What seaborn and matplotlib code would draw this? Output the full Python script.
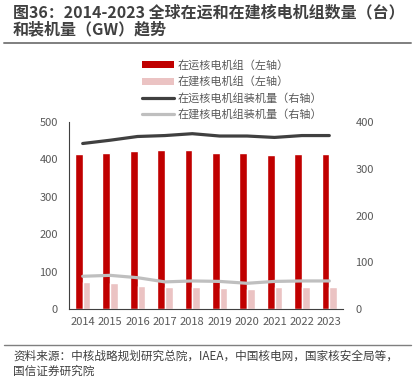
import numpy as np
import pandas as pd
import matplotlib
matplotlib.use("Agg")
import matplotlib.pyplot as plt
import seaborn as sns
from matplotlib.patches import Patch
from matplotlib.lines import Line2D

years = ["2014", "2015", "2016", "2017", "2018", "2019", "2020", "2021", "2022", "2023"]
operating_units = [415, 418, 423, 424, 426, 418, 416, 412, 414, 415]
construction_units = [73, 69, 62, 60, 59, 57, 54, 59, 60, 60]
operating_gw = [354, 361, 369, 371, 375, 370, 370, 367, 371, 371]
construction_gw = [70, 72, 67, 58, 60, 59, 55, 59, 60, 60]

lbl_op = "在运核电机组（左轴）"
lbl_con = "在建核电机组（左轴）"
lbl_opgw = "在运核电机组装机量（右轴）"
lbl_congw = "在建核电机组装机量（右轴）"

sns.set_theme(style="white")
plt.rcParams['font.family'] = ['Noto Sans CJK SC', 'DejaVu Sans']

red = "#C00000"
pink = "#EBC3C3"
dark = "#404040"
light = "#BFBFBF"
txt = "#595959"

W, H = 413, 378
fig = plt.figure(figsize=(W/100, H/100), dpi=100)
ax = fig.add_axes([69/W, 1-309/H, (343-69)/W, (309-122)/H])

bars = pd.DataFrame({
    "year": years * 2,
    "value": operating_units + construction_units,
    "series": [lbl_op]*len(years) + [lbl_con]*len(years),
})
sns.barplot(data=bars, x="year", y="value", hue="series", order=years,
            hue_order=[lbl_op, lbl_con], palette=[red, pink], width=0.56,
            gap=0, saturation=1, ax=ax, legend=False)
ax.set_xlim(-0.5, 9.5)
ax.set_ylim(0, 500)
ax.set_yticks([0, 100, 200, 300, 400, 500])
ax.set_xlabel("")
ax.set_ylabel("")
for s in ["top", "right"]:
    ax.spines[s].set_visible(False)
ax.spines["left"].set_color("#404040")
ax.spines["bottom"].set_color("#404040")
ax.spines["left"].set_linewidth(0.8)
ax.spines["bottom"].set_linewidth(0.8)
ax.tick_params(axis="y", length=0, labelsize=8, colors=txt, pad=8)
ax.tick_params(axis="x", length=0, labelsize=8, colors=txt, pad=6)

ax2 = ax.twinx()
lines = pd.DataFrame({
    "pos": list(range(len(years))) * 2,
    "value": operating_gw + construction_gw,
    "series": [lbl_opgw]*len(years) + [lbl_congw]*len(years),
})
sns.lineplot(data=lines, x="pos", y="value", hue="series",
             hue_order=[lbl_opgw, lbl_congw], palette=[dark, light],
             linewidth=2.3, ax=ax2, legend=False)
ax2.set_xlim(-0.5, 9.5)
ax2.set_ylim(0, 400)
ax2.set_yticks([0, 100, 200, 300, 400])
ax2.set_xlabel("")
ax2.set_ylabel("")
for s in ["top", "right", "left", "bottom"]:
    ax2.spines[s].set_visible(False)
ax2.tick_params(axis="y", length=0, labelsize=8, colors=txt, pad=9)
ax2.grid(False)
ax.grid(False)

handles = [Patch(facecolor=red, edgecolor="none"),
           Patch(facecolor=pink, edgecolor="none"),
           Line2D([], [], color=dark, linewidth=2.3, solid_capstyle="round"),
           Line2D([], [], color=light, linewidth=2.3, solid_capstyle="round")]
fig.legend(handles, [lbl_op, lbl_con, lbl_opgw, lbl_congw],
           loc="upper left", bbox_to_anchor=(142/W, 1-60/H),
           frameon=False, fontsize=8, labelcolor=txt,
           handlelength=2.9, handleheight=0.6, handletextpad=0.3,
           labelspacing=0.5, borderpad=0, borderaxespad=0)

fig.text(13/W, 1-12/H, "图36：2014-2023 全球在运和在建核电机组数量（台）",
         fontsize=11.5, fontweight="bold", color="#404040", va="center", ha="left")
fig.text(13/W, 1-29/H, "和装机量（GW）趋势",
         fontsize=11.5, fontweight="bold", color="#404040", va="center", ha="left")
fig.add_artist(Line2D([4/W, 411/W], [1-43/H, 1-43/H], color="#7F7F7F", linewidth=1.4))
fig.add_artist(Line2D([4/W, 411/W], [1-345/H, 1-345/H], color="#7F7F7F", linewidth=1.0))
fig.text(13/W, 1-356/H, "资料来源：中核战略规划研究总院，IAEA，中国核电网，国家核安全局等，",
         fontsize=8.4, color="#404040", va="center", ha="left")
fig.text(13/W, 1-371/H, "国信证券研究院",
         fontsize=8.4, color="#404040", va="center", ha="left")

fig.savefig("out.png", dpi=100, facecolor="white")
